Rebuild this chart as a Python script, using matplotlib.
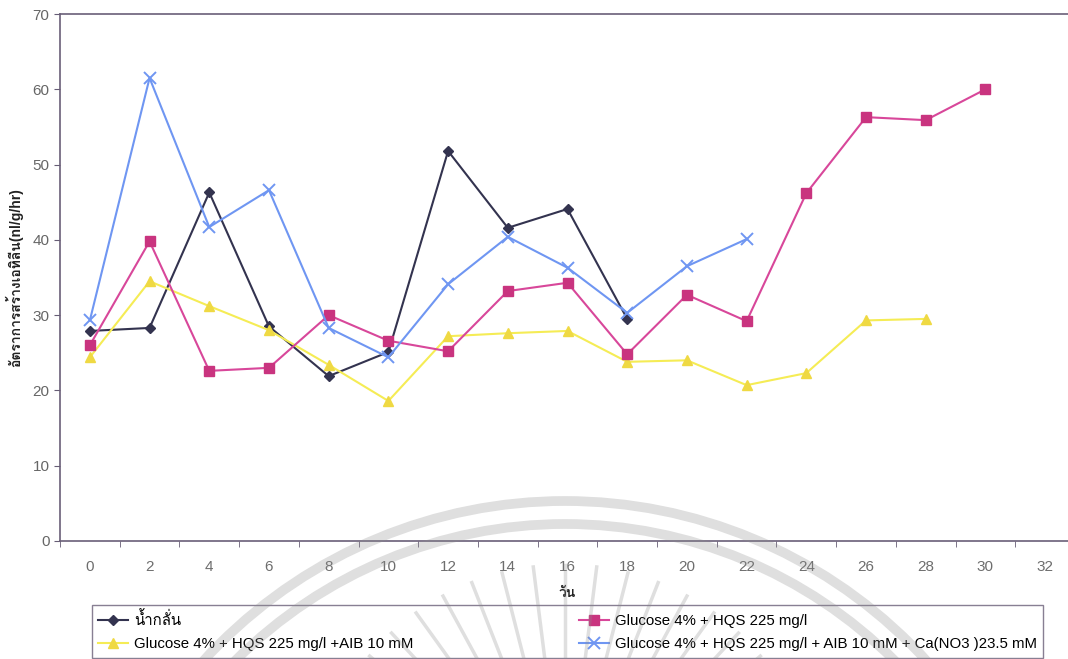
import matplotlib
matplotlib.use("Agg")
import matplotlib.pyplot as plt
from matplotlib import font_manager
from matplotlib.patches import Arc
from matplotlib.lines import Line2D
import numpy as np
from fontTools.ttLib import TTFont

# วัน (days) on the category axis
วัน = [0, 2, 4, 6, 8, 10, 12, 14, 16, 18, 20, 22, 24, 26, 28, 30, 32]

# ethylene production rate (nl/g/hr) per treatment
น้ำกลั่น = [27.9, 28.3, 46.3, 28.5, 21.9, 25.1, 51.8, 41.6, 44.1, 29.5]
glucose_hqs = [26.0, 39.8, 22.6, 23.0, 30.0, 26.6, 25.2, 33.2, 34.3, 24.8,
               32.7, 29.2, 46.2, 56.3, 55.9, 60.0]
glucose_hqs_aib = [24.4, 34.5, 31.2, 28.0, 23.4, 18.6, 27.2, 27.6, 27.9, 23.8,
                   24.0, 20.7, 22.3, 29.3, 29.5]
glucose_hqs_aib_ca = [29.3, 61.5, 41.7, 46.6, 28.3, 24.4, 34.1, 40.4, 36.3, 30.3,
                      36.5, 40.1]

labels = ["น้ำกลั่น",
          "Glucose 4% + HQS 225 mg/l",
          "Glucose 4% + HQS 225 mg/l +AIB 10 mM",
          "Glucose 4% + HQS 225 mg/l + AIB 10 mM + Ca(NO3 )23.5 mM"]


def หา_font_ไทย():
    # first installed font that actually has Thai glyphs
    names = []
    for f in font_manager.fontManager.ttflist:
        try:
            cmap = TTFont(f.fname, fontNumber=0, lazy=True).getBestCmap()
        except Exception:
            continue
        if cmap and 0x0E2D in cmap and 0x0E34 in cmap:
            names.append(f.name)
    return names


thai = หา_font_ไทย()
plt.rcParams['font.family'] = ['Liberation Sans'] + thai[:1] + ['DejaVu Sans']

fig = plt.figure(figsize=(10.68, 6.59), dpi=100)
ax = fig.add_axes([60 / 1068, 118 / 659, 1015 / 1068, 527 / 659])

idx = np.arange(len(วัน))
ax.plot(idx[:len(น้ำกลั่น)], น้ำกลั่น, color="#33334f", marker="D", ms=5.5, lw=1.5,
        label=labels[0])
ax.plot(idx[:len(glucose_hqs_aib)], glucose_hqs_aib, color="#f5ec55", marker="^", ms=7,
        mfc="#efd943", mec="#efd943", lw=1.5, label=labels[2])
ax.plot(idx[:len(glucose_hqs)], glucose_hqs, color="#d8479a", marker="s", ms=7,
        mfc="#c9347f", mec="#c9347f", lw=1.5, label=labels[1])
ax.plot(idx[:len(glucose_hqs_aib_ca)], glucose_hqs_aib_ca, color="#6f96f2", marker="x",
        ms=8, mew=1.4, lw=1.5, label=labels[3])

ax.set_xlim(-0.5, len(วัน) - 0.5)
ax.set_ylim(0, 70)
ax.set_yticks(range(0, 71, 10))
ax.set_xticks(idx)
ax.set_xticklabels([str(d) for d in วัน])
ax.set_xticks(np.arange(-0.5, len(วัน)), minor=True)
ax.tick_params(axis="x", which="major", length=0, pad=14, labelsize=11, labelcolor="#6e6e6e")
ax.tick_params(axis="x", which="minor", length=4, color="#665d75", direction="out")
ax.tick_params(axis="y", length=4, color="#665d75", labelsize=11, labelcolor="#666666")
for s in ax.spines.values():
    s.set_color("#6a5f78")
    s.set_linewidth(1.2)

ax.set_xlabel("วัน", fontsize=10, fontweight="bold", labelpad=8, color="#222222")
ax.set_ylabel("อัตราการสร้างเอทิลีน(nl/g/hr)", fontsize=10, fontweight="bold",
              color="#222222", labelpad=7)

handles, labs = ax.get_legend_handles_labels()
leg = fig.legend(handles, labs, ncol=2, loc="upper left",
                 bbox_to_anchor=(92 / 1068, 1 - 605 / 659),
                 fontsize=10.8, frameon=True, fancybox=False,
                 handlelength=2.0, handletextpad=0.4, borderaxespad=0,
                 borderpad=0.43, labelspacing=0.6, columnspacing=11.0)
leg.get_frame().set_edgecolor("#6a5f78")
leg.get_frame().set_linewidth(1.0)
leg.get_frame().set_facecolor("none")

# faint seal printed over the lower part of the page
ov = fig.add_axes([0, 0, 1, 1], zorder=10)
ov.set_xlim(0, 1068)
ov.set_ylim(659, 0)
ov.axis("off")
gray = (0.55, 0.55, 0.55, 0.28)
for r in (489, 466):
    ov.add_patch(Arc((565, 990), 2 * r, 2 * r, theta1=180, theta2=360, color=gray, lw=7))
for ang in np.linspace(40, 140, 15):
    a = np.deg2rad(ang)
    r0, r1 = 120, 255
    ov.add_line(Line2D([565 + r0 * np.cos(a), 565 + r1 * np.cos(a)],
                       [820 - r0 * np.sin(a), 820 - r1 * np.sin(a)],
                       color=gray, lw=2.5))

fig.savefig("out.png", dpi=100)
